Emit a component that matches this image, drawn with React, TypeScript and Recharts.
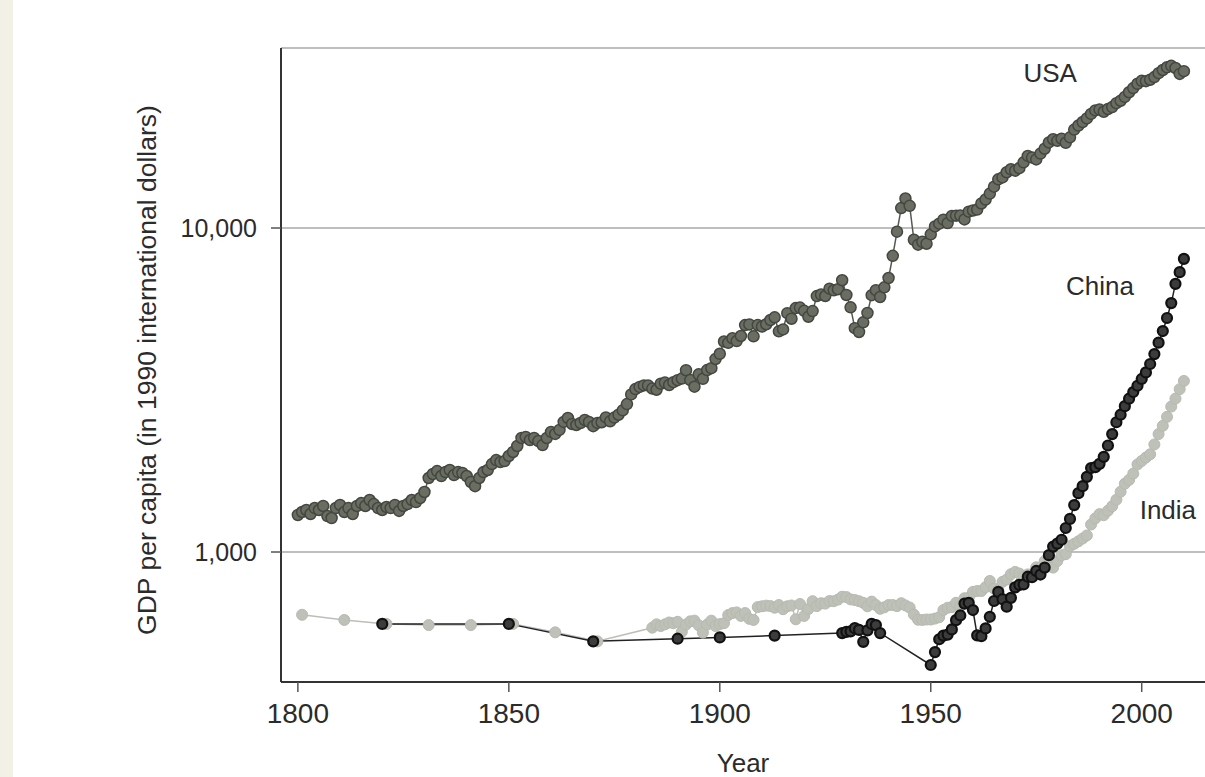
import { LineChart, Line, XAxis, YAxis, CartesianGrid, ReferenceDot, Label } from "recharts"

// GDP per capita, 1990 international dollars
const USA_FIRST_YEAR = 1800
const USA_GDP = [
  1301, 1329, 1348, 1310, 1367, 1348, 1387, 1291, 1273, 1367,
  1397, 1329, 1367, 1310, 1387, 1416, 1387, 1447, 1406, 1367,
  1348, 1377, 1367, 1397, 1339, 1387, 1406, 1447, 1426, 1468,
  1532, 1692, 1741, 1777, 1716, 1765, 1791, 1728, 1765, 1753,
  1716, 1645, 1597, 1692, 1765, 1791, 1868, 1922, 1895, 1908,
  1979, 2036, 2124, 2249, 2265, 2216, 2249, 2200, 2138, 2249,
  2348, 2315, 2381, 2520, 2592, 2484, 2466, 2502, 2556, 2520,
  2445, 2503, 2515, 2603, 2531, 2599, 2653, 2737, 2861, 3065,
  3184, 3232, 3267, 3268, 3195, 3168, 3307, 3334, 3276, 3344,
  3392, 3429, 3640, 3394, 3238, 3535, 3425, 3644, 3693, 3943,
  4091, 4464, 4421, 4567, 4477, 4642, 5017, 5040, 4632, 5017,
  4964, 5046, 5201, 5301, 4799, 4864, 5459, 5248, 5659, 5680,
  5552, 5323, 5540, 6164, 6233, 6168, 6498, 6421, 6472, 6899,
  6213, 5691, 4908, 4777, 5114, 5467, 6204, 6430, 6126, 6561,
  7010, 8206, 9741, 11518, 12333, 11709, 9197, 8886, 9065, 8944,
  9561, 10116, 10316, 10613, 10359, 10897, 10914, 10920, 10631, 11230,
  11328, 11402, 11905, 12242, 12773, 13419, 14134, 14330, 14863, 15179,
  15030, 15304, 15944, 16689, 16491, 16284, 16975, 17567, 18373, 18789,
  18577, 18856, 18325, 19047, 20123, 20717, 21236, 21788, 22499, 23059,
  23201, 22849, 23298, 23616, 24284, 24703, 25380, 26245, 27026, 27871,
  28467, 28387, 28680, 29223, 30057, 30741, 31339, 31655, 31178, 29899,
  30491,
]

const CHINA_EARLY_YEARS = [1820, 1850, 1870, 1890, 1900, 1913, 1929, 1930, 1931, 1932, 1933, 1934, 1935, 1936, 1937, 1938]
const CHINA_EARLY_GDP = [600, 600, 530, 540, 545, 552, 562, 567, 569, 582, 575, 528, 573, 600, 595, 562]
const CHINA_FIRST_YEAR = 1950
const CHINA_GDP = [
  448, 491, 538, 552, 556, 577, 616, 637, 693, 697,
  662, 553, 550, 581, 631, 706, 753, 715, 678, 722,
  778, 792, 794, 839, 836, 874, 852, 895, 978, 1039,
  1061, 1091, 1186, 1265, 1396, 1519, 1597, 1706, 1816, 1827,
  1871, 1967, 2132, 2312, 2515, 2653, 2820, 2973, 3117, 3259,
  3421, 3583, 3804, 4081, 4428, 4808, 5275, 5866, 6725, 7308,
  8032,
]

const INDIA_EARLY_YEARS = [1801, 1811, 1821, 1831, 1841, 1851, 1861, 1871]
const INDIA_EARLY_GDP = [640, 617, 600, 595, 595, 600, 565, 530]
const INDIA_FIRST_YEAR = 1884
const INDIA_GDP = [
  584, 598, 591, 598, 606, 603,
  609, 567, 597, 611, 614, 594, 564, 597, 614, 591,
  599, 603, 639, 648, 651, 635, 648, 622, 617, 676,
  680, 683, 681, 673, 686, 666, 680, 684, 620, 691,
  635, 667, 705, 681, 695, 693, 706, 705, 713, 728,
  726, 714, 711, 705, 697, 680, 703, 686, 668, 675,
  686, 686, 681, 695, 684, 674, 641, 618, 617, 619,
  619, 623, 629, 662, 673, 676, 697, 680, 720, 723,
  753, 758, 758, 779, 814, 771, 763, 809, 822, 854,
  868, 858, 841, 853, 848, 897, 889, 937, 966, 895,
  938, 977, 985, 1043, 1060, 1079, 1101, 1125, 1216, 1270,
  1309, 1299, 1341, 1385, 1450, 1535, 1625, 1669, 1746, 1864,
  1910, 1957, 2003, 2148, 2312, 2452, 2613, 2811, 2975, 3180,
  3372,
]

const YEAR_TICKS = [1800, 1850, 1900, 1950, 2000]
const GDP_TICKS = [1000, 10000]

const SERIES_LABELS = [
  { name: "USA", year: 1978.3, gdp: 30200 },
  { name: "China", year: 1990.1, gdp: 6625 },
  { name: "India", year: 2006.2, gdp: 1348 },
]

const FONT = "'Liberation Sans', Arial, Helvetica, sans-serif"
const INK = "#2b2b2b"

function pairs(years: number[], values: number[]) {
  return years.map((year, i) => ({ year, gdp: values[i] }))
}

function annual(first: number, values: number[]) {
  return values.map((gdp, i) => ({ year: first + i, gdp }))
}

const usaData = annual(USA_FIRST_YEAR, USA_GDP)
const chinaData = [...pairs(CHINA_EARLY_YEARS, CHINA_EARLY_GDP), ...annual(CHINA_FIRST_YEAR, CHINA_GDP)]
const indiaData = [...pairs(INDIA_EARLY_YEARS, INDIA_EARLY_GDP), ...annual(INDIA_FIRST_YEAR, INDIA_GDP)]

function YTitle() {
  return (
    <text
      x={156}
      y={370}
      transform="rotate(-90 156 370)"
      textAnchor="middle"
      fontSize={26.5}
      fontFamily={FONT}
      fill={INK}
    >
      GDP per capita (in 1990 international dollars)
    </text>
  )
}

export default function App() {
  return (
    <div style={{ position: "absolute", left: 0, top: 0, width: 1205, height: 777, background: "#fff" }}>
      <div style={{ position: "absolute", left: 0, top: 0, width: 13, height: 777, background: "#f3f0e6" }} />
      <LineChart
        width={1205}
        height={777}
        margin={{ top: 48, right: 0, bottom: 0, left: 0 }}
        style={{ fontFamily: FONT }}
      >
        <CartesianGrid vertical={false} stroke="#a8a8a8" strokeWidth={1.5} />
        <XAxis
          type="number"
          dataKey="year"
          domain={[1796, 2015]}
          allowDataOverflow
          ticks={YEAR_TICKS}
          interval={0}
          height={95}
          tickSize={10}
          tickMargin={11}
          tick={{ fontSize: 28, fill: INK, fontFamily: FONT }}
          axisLine={{ stroke: "#333", strokeWidth: 2 }}
          tickLine={{ stroke: "#555", strokeWidth: 1.5 }}
        >
          <Label value="Year" position="insideBottom" offset={5} fontSize={26} fill={INK} fontFamily={FONT} />
        </XAxis>
        <YAxis
          scale="log"
          domain={[397, 35940]}
          allowDataOverflow
          ticks={GDP_TICKS}
          interval={0}
          width={281}
          tickSize={10}
          tickMargin={14}
          tickFormatter={(v) => Number(v).toLocaleString("en-US")}
          tick={{ fontSize: 25, fill: INK, fontFamily: FONT }}
          axisLine={{ stroke: "#333", strokeWidth: 2 }}
          tickLine={{ stroke: "#555", strokeWidth: 1.5 }}
        >
          <Label content={YTitle} />
        </YAxis>
        <Line
          data={indiaData}
          dataKey="gdp"
          type="linear"
          stroke="#bcbfb6"
          strokeWidth={1.5}
          dot={{ r: 5.5, fill: "#bec1b8", stroke: "#b7baB1", strokeWidth: 1 }}
          activeDot={false}
          isAnimationActive={false}
        />
        <Line
          data={chinaData}
          dataKey="gdp"
          type="linear"
          stroke="#222"
          strokeWidth={1.5}
          dot={{ r: 5, fill: "#3c3c3c", stroke: "#111", strokeWidth: 2.2 }}
          activeDot={false}
          isAnimationActive={false}
        />
        <Line
          data={usaData}
          dataKey="gdp"
          type="linear"
          stroke="#55584f"
          strokeWidth={1.5}
          dot={{ r: 5.5, fill: "#6a6e62", stroke: "#44473f", strokeWidth: 1.5 }}
          activeDot={false}
          isAnimationActive={false}
        />
        {SERIES_LABELS.map((s) => (
          <ReferenceDot
            key={s.name}
            x={s.year}
            y={s.gdp}
            r={0}
            fill="none"
            stroke="none"
            label={{ value: s.name, position: "center", fontSize: 26, fill: INK, fontFamily: FONT }}
          />
        ))}
      </LineChart>
    </div>
  )
}
